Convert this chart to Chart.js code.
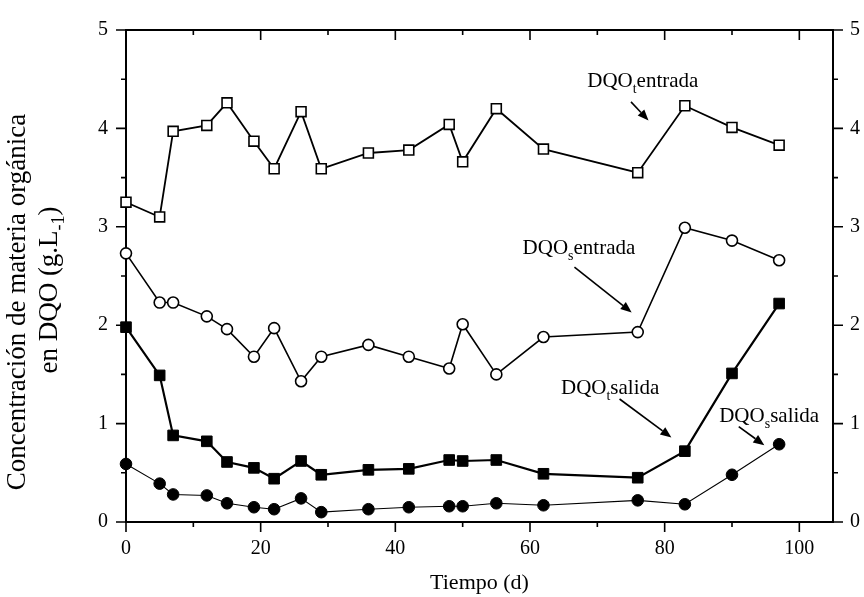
<!DOCTYPE html>
<html><head><meta charset="utf-8">
<script src="https://cdn.jsdelivr.net/npm/chart.js@4.4.0/dist/chart.umd.min.js"></script>
<style>html,body{margin:0;padding:0;background:#fff}#wrap{width:864px;height:597px}</style>
</head><body><div id="wrap"><canvas id="c" width="864" height="597"></canvas></div>
<script>
// ---- data ----
const dias = [0,5,7,12,15,19,22,26,29,36,42,48,50,55,62,76,83,90,97];
const dqoTEntrada = [3.25,3.10,3.97,4.03,4.26,3.87,3.59,4.17,3.59,3.75,3.78,4.04,3.66,4.20,3.79,3.55,4.23,4.01,3.83];
const dqoSEntrada = [2.73,2.23,2.23,2.09,1.96,1.68,1.97,1.43,1.68,1.80,1.68,1.56,2.01,1.50,1.88,1.93,2.99,2.86,2.66];
const dqoTSalida  = [1.98,1.49,0.88,0.82,0.61,0.55,0.44,0.62,0.48,0.53,0.54,0.63,0.62,0.63,0.49,0.45,0.72,1.51,2.22];
const dqoSSalida  = [0.59,0.39,0.28,0.27,0.19,0.15,0.13,0.24,0.10,0.13,0.15,0.16,0.16,0.19,0.17,0.22,0.18,0.48,0.79];
const xTicks = [0,20,40,60,80,100];
const yTicks = [0,1,2,3,4,5];
const xTitle = 'Tiempo (d)';
const yTitle1 = 'Concentración de materia orgánica';
const yTitle2 = ['en DQO (g.L', '-1', ')'];
const labels = [
  {main:'DQO', sub:'t', rest:'entrada'},
  {main:'DQO', sub:'s', rest:'entrada'},
  {main:'DQO', sub:'t', rest:'salida'},
  {main:'DQO', sub:'s', rest:'salida'}
];
// annotation placement (data coordinates)
const labelPos = [
  {x:68.5, y:4.42, ax1:75.0, ay1:4.27, ax2:77.6, ay2:4.08},
  {x:58.9, y:2.72, ax1:66.6, ay1:2.59, ax2:75.1, ay2:2.13},
  {x:64.6, y:1.30, ax1:73.3, ay1:1.25, ax2:81.0, ay2:0.86},
  {x:88.1, y:1.02, ax1:91.0, ay1:0.97, ax2:94.8, ay2:0.78}
];

const SERIF = "'Liberation Serif','Times New Roman',serif";
const pts = arr => dias.map((d,i)=>({x:d, y:arr[i]}));

function richText(ctx, x, y, main, sub, rest, size){
  ctx.font = size + 'px ' + SERIF;
  ctx.fillText(main, x, y);
  let w = ctx.measureText(main).width;
  const ss = Math.round(size*0.68);
  ctx.font = ss + 'px ' + SERIF;
  ctx.fillText(sub, x + w, y + size*0.28);
  w += ctx.measureText(sub).width;
  ctx.font = size + 'px ' + SERIF;
  ctx.fillText(rest, x + w, y);
}
function arrow(ctx, x1, y1, x2, y2){
  const ang = Math.atan2(y2-y1, x2-x1), L = 11, W = 4.5;
  const bx = x2 - L*Math.cos(ang), by = y2 - L*Math.sin(ang);
  ctx.beginPath(); ctx.moveTo(x1,y1); ctx.lineTo(bx,by); ctx.lineWidth=1.6; ctx.stroke();
  ctx.beginPath();
  ctx.moveTo(x2,y2);
  ctx.lineTo(bx - W*Math.sin(ang), by + W*Math.cos(ang));
  ctx.lineTo(bx + W*Math.sin(ang), by - W*Math.cos(ang));
  ctx.closePath(); ctx.fill();
}

const framePlugin = {
  id:'frame',
  beforeDatasetsDraw(chart){
    const {ctx, chartArea:a} = chart;
    const x = chart.scales.x, y = chart.scales.y;
    ctx.save();
    ctx.strokeStyle = '#000'; ctx.lineWidth = 2;
    ctx.strokeRect(a.left, a.top, a.right-a.left, a.bottom-a.top);
    ctx.lineWidth = 1.6;
    ctx.beginPath();
    const xm = []; xTicks.forEach((v,i)=>{ xm.push([v,10]); if(i<xTicks.length-1) xm.push([(v+xTicks[i+1])/2,5]); });
    xm.forEach(([v,L])=>{ const px = x.getPixelForValue(v);
      ctx.moveTo(px,a.bottom); ctx.lineTo(px,a.bottom+L);
      ctx.moveTo(px,a.top); ctx.lineTo(px,a.top+L); });
    const ym = []; yTicks.forEach((v,i)=>{ ym.push([v,10]); if(i<yTicks.length-1) ym.push([(v+yTicks[i+1])/2,5]); });
    ym.forEach(([v,L])=>{ const py = y.getPixelForValue(v);
      ctx.moveTo(a.left,py); ctx.lineTo(a.left-L,py);
      ctx.moveTo(a.right,py); ctx.lineTo(a.right+L,py); });
    ctx.stroke();
    ctx.restore();
  },
  afterDraw(chart){
    const {ctx, chartArea:a} = chart;
    const x = chart.scales.x, y = chart.scales.y;
    ctx.save();
    ctx.fillStyle = '#000'; ctx.strokeStyle = '#000';
    ctx.textBaseline = 'alphabetic'; ctx.textAlign = 'left';
    labels.forEach((l,i)=>{
      const p = labelPos[i];
      richText(ctx, x.getPixelForValue(p.x), y.getPixelForValue(p.y), l.main, l.sub, l.rest, 21);
      arrow(ctx, x.getPixelForValue(p.ax1), y.getPixelForValue(p.ay1), x.getPixelForValue(p.ax2), y.getPixelForValue(p.ay2));
    });
    // y axis title (two lines, rotated)
    const cy = (a.top + a.bottom)/2 + 26;
    ctx.save();
    ctx.translate(25, cy); ctx.rotate(-Math.PI/2);
    ctx.textBaseline = 'alphabetic'; ctx.textAlign = 'center';
    ctx.font = '27px ' + SERIF;
    ctx.fillText(yTitle1, 0, 0);
    ctx.restore();
    ctx.save();
    ctx.translate(57, cy - 12); ctx.rotate(-Math.PI/2);
    ctx.textAlign = 'left';
    ctx.font = '27px ' + SERIF;
    const w0 = ctx.measureText(yTitle2[0]).width;
    ctx.font = '18px ' + SERIF;
    const w1 = ctx.measureText(yTitle2[1]).width;
    ctx.font = '27px ' + SERIF;
    const w2 = ctx.measureText(yTitle2[2]).width;
    let sx = -(w0+w1+w2)/2;
    ctx.fillText(yTitle2[0], sx, 0); sx += w0;
    ctx.font = '18px ' + SERIF; ctx.fillText(yTitle2[1], sx, 7); sx += w1;
    ctx.font = '27px ' + SERIF; ctx.fillText(yTitle2[2], sx, 0);
    ctx.restore();
    ctx.restore();
  }
};

const tickFont = {family:SERIF, size:20};
new Chart(document.getElementById('c'), {
  type:'line',
  data:{datasets:[
    {label:'DQOt entrada', data:pts(dqoTEntrada), borderColor:'#000', borderWidth:1.8, pointStyle:'rect', pointRadius:7, pointBackgroundColor:'#fff', pointBorderColor:'#000', pointBorderWidth:1.6, tension:0, clip:false},
    {label:'DQOs entrada', data:pts(dqoSEntrada), borderColor:'#000', borderWidth:1.6, pointStyle:'circle', pointRadius:5.5, pointBackgroundColor:'#fff', pointBorderColor:'#000', pointBorderWidth:1.6, tension:0, clip:false},
    {label:'DQOt salida', data:pts(dqoTSalida), borderColor:'#000', borderWidth:2.2, pointStyle:'rect', pointRadius:7.5, pointBackgroundColor:'#000', pointBorderColor:'#000', pointBorderWidth:1, tension:0, clip:false},
    {label:'DQOs salida', data:pts(dqoSSalida), borderColor:'#000', borderWidth:1.1, pointStyle:'circle', pointRadius:5.8, pointBackgroundColor:'#000', pointBorderColor:'#000', pointBorderWidth:1, tension:0, clip:false}
  ]},
  options:{
    responsive:false, animation:false, devicePixelRatio:1,
    layout:{padding:{top:22,left:0,right:0,bottom:0}},
    plugins:{legend:{display:false}, tooltip:{enabled:false}},
    elements:{point:{hoverRadius:0}},
    scales:{
      x:{type:'linear', position:'bottom', min:0, max:105,
        afterBuildTicks:s=>{ s.ticks = xTicks.map(v=>({value:v})); },
        afterFit:s=>{ s.height = 75; },
        ticks:{font:tickFont, color:'#000', padding:15, maxRotation:0},
        grid:{display:false, drawTicks:false}, border:{display:false},
        title:{display:true, text:xTitle, color:'#000', font:{family:SERIF, size:22}, padding:{top:0,bottom:1}}
      },
      y:{type:'linear', position:'left', min:0, max:5,
        afterBuildTicks:s=>{ s.ticks = yTicks.map(v=>({value:v})); },
        afterFit:s=>{ s.width = 126; },
        ticks:{font:tickFont, color:'#000', padding:18},
        grid:{display:false, drawTicks:false}, border:{display:false}
      },
      y2:{type:'linear', position:'right', min:0, max:5,
        afterBuildTicks:s=>{ s.ticks = yTicks.map(v=>({value:v})); },
        afterFit:s=>{ s.width = 31; },
        ticks:{font:tickFont, color:'#000', padding:17},
        grid:{display:false, drawTicks:false}, border:{display:false}
      }
    }
  },
  plugins:[framePlugin]
});
</script></body></html>
